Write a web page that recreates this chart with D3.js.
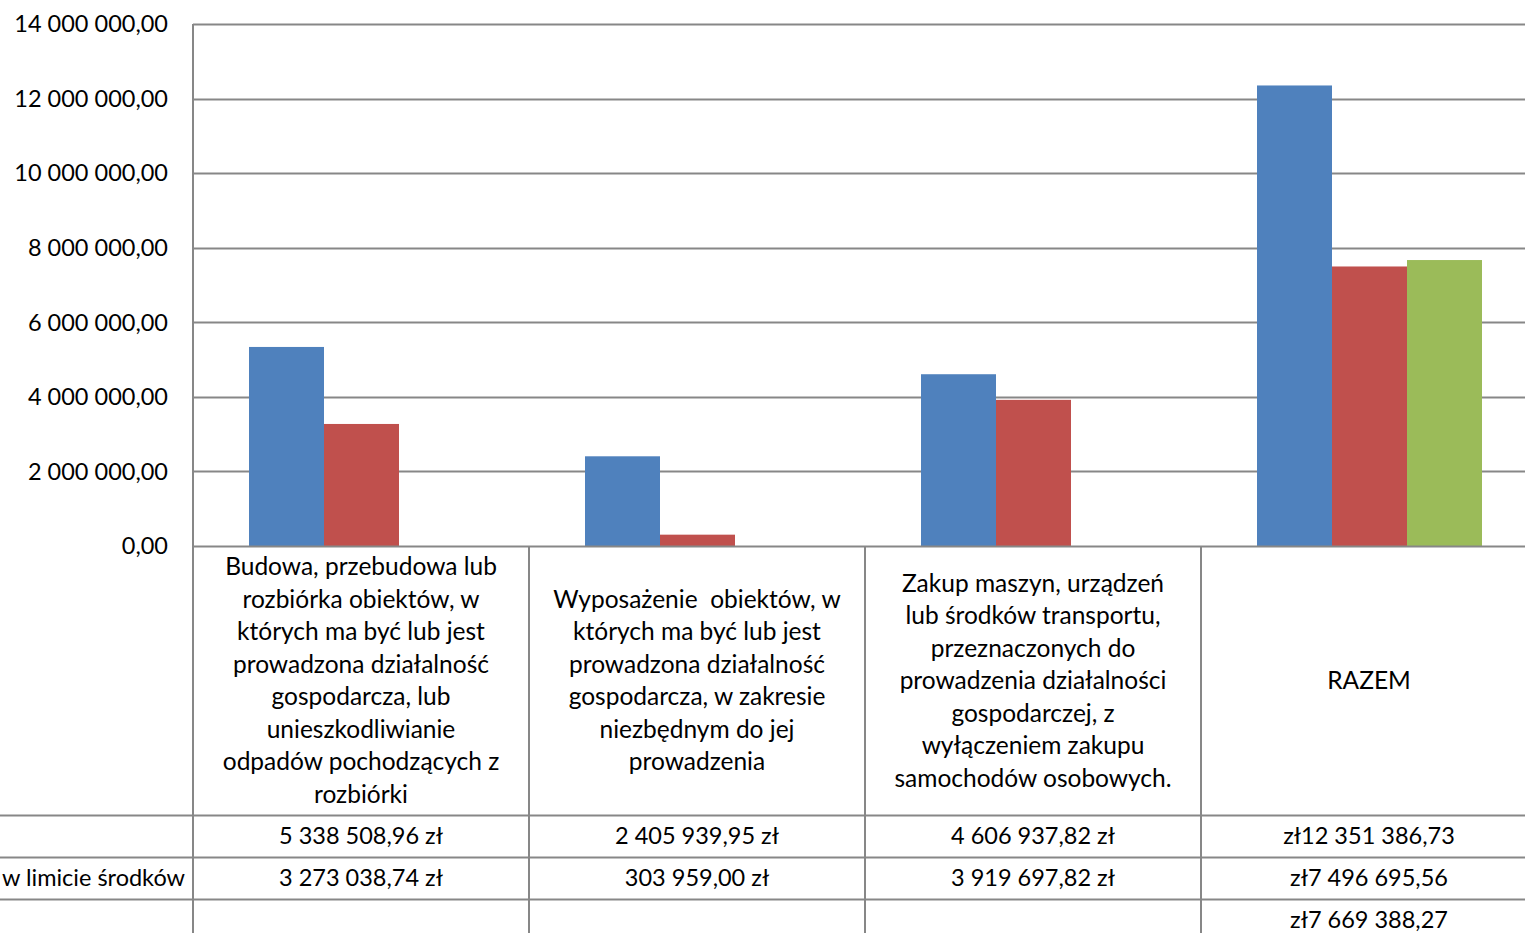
<!DOCTYPE html>
<html>
<head>
<meta charset="utf-8">
<script src="https://cdn.jsdelivr.net/npm/d3@7"></script>
<style>
  html, body { margin: 0; padding: 0; background: #fff; overflow: hidden; }
  svg { display: block; }
  text { font-family: Lato, "Open Sans", sans-serif; fill: #000; }
</style>
</head>
<body>
<svg id="chart" width="1525" height="933"></svg>
<script>
// ---- data ----
const categories = [
  "Budowa, przebudowa lub\nrozbiórka obiektów, w\nktórych ma być lub jest\nprowadzona działalność\ngospodarcza, lub\nunieszkodliwianie\nodpadów pochodzących z\nrozbiórki",
  "Wyposażenie  obiektów, w\nktórych ma być lub jest\nprowadzona działalność\ngospodarcza, w zakresie\nniezbędnym do jej\nprowadzenia",
  "Zakup maszyn, urządzeń\nlub środków transportu,\nprzeznaczonych do\nprowadzenia działalności\ngospodarczej, z\nwyłączeniem zakupu\nsamochodów osobowych.",
  "RAZEM"
];
const seriesNames = ["", "w limicie środków", ""];
const series1 = [5338508.96, 2405939.95, 4606937.82, 12351386.73];
const series2 = [3273038.74, 303959.00, 3919697.82, 7496695.56];
const series3 = [null, null, null, 7669388.27];
const seriesColors = ["#4F81BD", "#C0504D", "#9BBB59"];
const yTicks = [0, 2000000, 4000000, 6000000, 8000000, 10000000, 12000000, 14000000];

(function () {
// ---- layout ----
const svg = d3.select("#chart");
const W = 1525, H = 933;
const mLeft = 193, mTop = 24, mBottom = 546;
const catW = 336;
const rowH = 42;
const tableTop = 815;
const gridColor = "#878787";
const fs = 23.5;
const fsCat = 24.5;

const allSeries = [series1, series2, series3];

const x0 = d3.scaleBand().domain(d3.range(categories.length))
  .range([mLeft, mLeft + catW * categories.length]).paddingInner(0).paddingOuter(0);
const x1 = d3.scaleBand().domain(d3.range(allSeries.length))
  .range([56, catW - 55]).padding(0);
const y = d3.scaleLinear().domain([0, 14000000]).range([mBottom, mTop]);

const nf = d3.formatLocale({decimal: ",", thousands: " ", grouping: [3], currency: ["", ""]}).format(",.2f");

// gridlines
svg.append("g").selectAll("line").data(yTicks.filter(d => d > 0)).join("line")
  .attr("x1", mLeft).attr("x2", W)
  .attr("y1", d => Math.round(y(d)) + 0.5).attr("y2", d => Math.round(y(d)) + 0.5)
  .attr("stroke", gridColor).attr("stroke-width", 2);

// y tick labels
svg.append("g").selectAll("text").data(yTicks).join("text")
  .attr("x", 168).attr("y", d => y(d))
  .attr("dy", "0.35em").attr("text-anchor", "end")
  .attr("font-size", fs)
  .text(d => nf(d));

// bars
const bars = svg.append("g");
allSeries.forEach((s, si) => {
  bars.append("g").selectAll("rect").data(s.map((v, i) => ({v, i})).filter(d => d.v != null)).join("rect")
    .attr("x", d => x0(d.i) + x1(si))
    .attr("width", x1.bandwidth())
    .attr("y", d => y(d.v))
    .attr("height", d => y(0) - y(d.v))
    .attr("fill", seriesColors[si]);
});

// axes / table lines
const lines = svg.append("g").attr("stroke", gridColor).attr("stroke-width", 2);
lines.append("line").attr("x1", mLeft).attr("x2", mLeft).attr("y1", mTop).attr("y2", H);
lines.append("line").attr("x1", mLeft).attr("x2", W).attr("y1", mBottom + 0.5).attr("y2", mBottom + 0.5);
d3.range(1, categories.length).forEach(i => {
  lines.append("line").attr("x1", x0(i)).attr("x2", x0(i)).attr("y1", mBottom).attr("y2", H);
});
d3.range(allSeries.length).forEach(r => {
  const yy = tableTop + r * rowH;
  lines.append("line").attr("x1", 0).attr("x2", W).attr("y1", yy + 0.5).attr("y2", yy + 0.5);
});

// category labels
const lineH = 32.5;
const catG = svg.append("g");
categories.forEach((c, i) => {
  const parts = c.split("\n");
  const cx = x0(i) + catW / 2;
  const cy = (mBottom + tableTop) / 2;
  const startY = cy - (parts.length - 1) * lineH / 2;
  const t = catG.append("text").attr("text-anchor", "middle").attr("font-size", fsCat);
  parts.forEach((p, k) => {
    t.append("tspan").attr("x", cx).attr("y", startY + k * lineH).attr("dy", "0.35em")
      .style("white-space", "pre").text(p);
  });
});

// data table values
const tbl = svg.append("g");
allSeries.forEach((s, si) => {
  const cy = tableTop + si * rowH + rowH / 2;
  tbl.append("text").attr("x", 185).attr("y", cy).attr("dy", "0.35em")
    .attr("text-anchor", "end").attr("font-size", fs).text(seriesNames[si]);
  s.forEach((v, i) => {
    if (v == null) return;
    const label = i === categories.length - 1 ? "zł" + nf(v) : nf(v) + " zł";
    tbl.append("text").attr("x", x0(i) + catW / 2).attr("y", cy).attr("dy", "0.35em")
      .attr("text-anchor", "middle").attr("font-size", fs).text(label);
  });
});
})();
</script>
</body>
</html>
